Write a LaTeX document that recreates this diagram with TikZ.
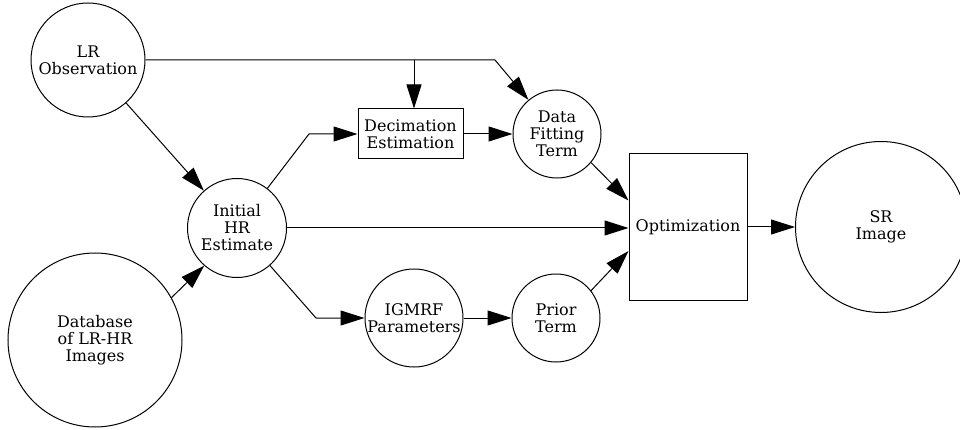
\documentclass[tikz,border=0pt]{standalone}
\usepackage{fontspec}
\setmainfont{DejaVu Serif}
\usetikzlibrary{arrows.meta,calc}
\begin{document}
\begin{tikzpicture}[x=1pt,y=-1pt,
  every node/.style={font=\fontsize{16}{17}\selectfont, align=center, inner sep=0pt},
  circ/.style={draw, circle, line width=1pt},
  boxn/.style={draw, rectangle, line width=1pt},
  conn/.style={line width=1pt, -{Triangle[length=24pt,width=15pt]}}]
\useasboundingbox (0,0) rectangle (960,430);
\node[circ, minimum size=114pt] (lr) at (88,60) {LR\\Observation};
\node[circ, minimum size=99pt] (ihr) at (237,228) {Initial\\HR\\Estimate};
\node[circ, minimum size=174pt] (db) at (95,340) {Database\\of LR-HR\\Images};
\node[circ, minimum size=98pt] (igmrf) at (414,318) {IGMRF\\Parameters};
\node[circ, minimum size=88pt] (prior) at (556,318) {Prior\\Term};
\node[circ, minimum size=88pt] (df) at (557,134) {Data\\Fitting\\Term};
\node[boxn, minimum width=105pt, minimum height=50pt] (dec) at (410.5,134) {Decimation\\Estimation};
\node[boxn, minimum width=118pt, minimum height=147pt] (opt) at (688,227) {Optimization};
\node[circ, minimum size=171pt] (sr) at (881,227) {SR\\Image};
\coordinate (j1) at (495,60);
\coordinate (j2) at (414,60);
\coordinate (b1) at (309,134);
\coordinate (b2) at (316,318);
\draw[conn] (lr.east) -- (j1) -- (df);
\draw[conn] (j2) -- (j2 |- dec.north);
\draw[conn] (lr) -- (ihr);
\draw[conn] (ihr) -- (b1) -- (dec.west);
\draw[conn] (ihr) -- (b2) -- (igmrf.west);
\draw[conn] (ihr.east) -- (ihr.east -| opt.west);
\draw[conn] (dec) -- (df);
\draw[conn] (igmrf) -- (prior);
\draw[conn] (df.-40) -- (opt.156);
\draw[conn] (prior.38) -- (opt.202);
\draw[conn] (opt.east) -- (sr.west);
\draw[conn] (db.29) -- (ihr.229);
\end{tikzpicture}
\end{document}
